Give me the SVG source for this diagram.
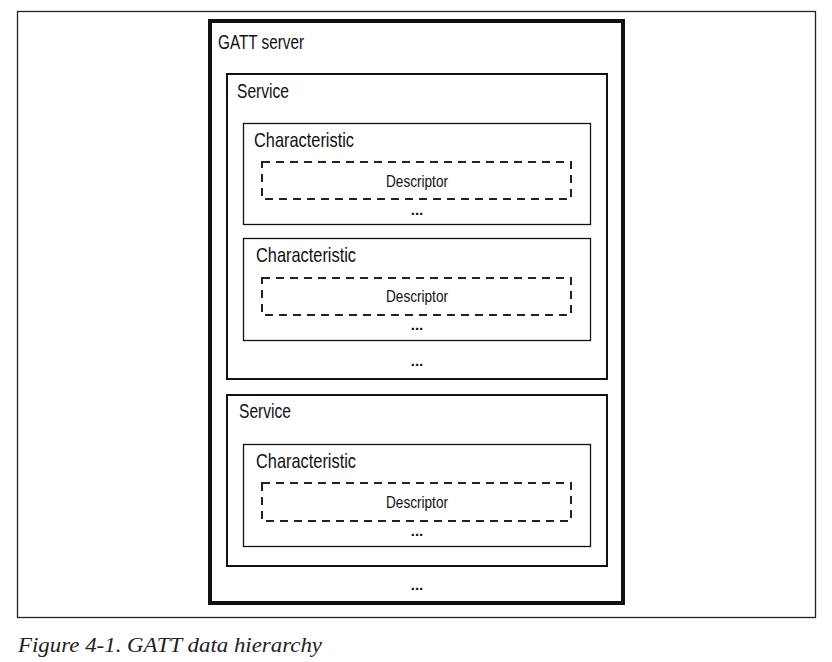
<svg xmlns="http://www.w3.org/2000/svg" width="832" height="662" viewBox="0 0 832 662">
<style>
.t{font-family:"Liberation Sans",Arial,sans-serif;fill:#111;}
.h{font-size:21px;}
.d{font-size:16px;text-anchor:middle;}
.dots{font-family:"Liberation Sans",Arial,sans-serif;font-size:15px;font-weight:bold;text-anchor:middle;fill:#111;}
.box{fill:none;stroke:#111;}
.desc{fill:none;stroke:#222;stroke-width:2;stroke-dasharray:8,6;}
</style>
<rect x="0" y="0" width="832" height="662" fill="#fff"/>
<rect id="frame" x="17.5" y="11.5" width="798" height="606" fill="none" stroke="#222" stroke-width="1.3"/>
<g id="gatt-server">
<rect class="box" x="210" y="21" width="413" height="582" stroke-width="4"/>
<text class="t h" x="218" y="49" textLength="86" lengthAdjust="spacingAndGlyphs">GATT server</text>
<text class="dots" x="417" y="590">...</text>
</g>
<g id="service-1">
<rect class="box" x="227" y="74" width="380" height="305" stroke-width="2"/>
<text class="t h" x="237" y="98" textLength="52" lengthAdjust="spacingAndGlyphs">Service</text>
<text class="dots" x="417" y="366">...</text>
</g>
<g id="characteristic-1">
<rect class="box" x="243.5" y="123.5" width="347" height="101" stroke-width="1.3"/>
<text class="t h" x="254" y="147" textLength="100" lengthAdjust="spacingAndGlyphs">Characteristic</text>
<text class="dots" x="417" y="215">...</text>
</g>
<g id="descriptor-1">
<rect class="desc" x="262" y="162" width="309" height="37"/>
<text class="t d" x="417" y="187" textLength="62" lengthAdjust="spacingAndGlyphs">Descriptor</text>
</g>
<g id="characteristic-2">
<rect class="box" x="243.5" y="238.5" width="347" height="102" stroke-width="1.3"/>
<text class="t h" x="256" y="262" textLength="100" lengthAdjust="spacingAndGlyphs">Characteristic</text>
<text class="dots" x="417" y="330">...</text>
</g>
<g id="descriptor-2">
<rect class="desc" x="262" y="278" width="309" height="37"/>
<text class="t d" x="417" y="302" textLength="62" lengthAdjust="spacingAndGlyphs">Descriptor</text>
</g>
<g id="service-2">
<rect class="box" x="227" y="395" width="380" height="171" stroke-width="2"/>
<text class="t h" x="239" y="418" textLength="52" lengthAdjust="spacingAndGlyphs">Service</text>
</g>
<g id="characteristic-3">
<rect class="box" x="243.5" y="444.5" width="347" height="102" stroke-width="1.3"/>
<text class="t h" x="256" y="468" textLength="100" lengthAdjust="spacingAndGlyphs">Characteristic</text>
<text class="dots" x="417" y="536">...</text>
</g>
<g id="descriptor-3">
<rect class="desc" x="262" y="483" width="309" height="38"/>
<text class="t d" x="417" y="508" textLength="62" lengthAdjust="spacingAndGlyphs">Descriptor</text>
</g>
<g id="connectors"></g>
<text id="caption" x="18" y="652" font-family="'Liberation Serif','Times New Roman',serif" font-style="italic" font-size="22" fill="#222" textLength="304" lengthAdjust="spacingAndGlyphs">Figure 4-1. GATT data hierarchy</text>
</svg>
